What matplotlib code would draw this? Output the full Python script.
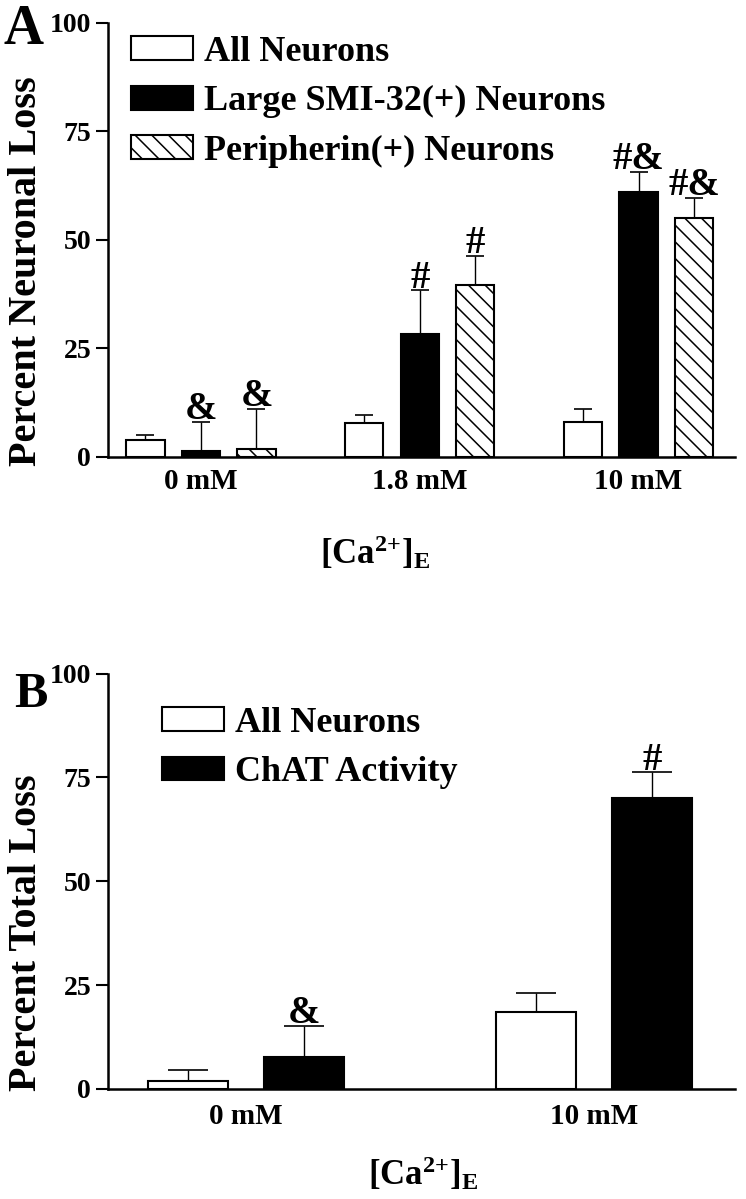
import numpy as np
import matplotlib
matplotlib.use('Agg')
import matplotlib.pyplot as plt

# data
groups_a = ['0 mM', '1.8 mM', '10 mM']
all_a = [3.8, 7.8, 8.0]
all_a_err = [1.3, 1.9, 3.0]
smi_a = [1.3, 28.2, 61.0]
smi_a_err = [6.7, 10.1, 4.6]
peri_a = [1.7, 39.5, 55.0]
peri_a_err = [9.3, 6.7, 4.7]
sig_smi = ['&', '#', '#&']
sig_peri = ['&', '#', '#&']

groups_b = ['0 mM', '10 mM']
all_b = [2.0, 18.5]
all_b_err = [2.6, 4.6]
chat_b = [7.8, 70.0]
chat_b_err = [7.4, 6.2]
sig_chat = ['&', '#']

yticks = [0, 25, 50, 75, 100]

plt.rcParams['font.family'] = 'Liberation Serif'
plt.rcParams['font.weight'] = 'bold'
plt.rcParams['mathtext.fontset'] = 'custom'
plt.rcParams['mathtext.rm'] = 'Liberation Serif:bold'
plt.rcParams['mathtext.it'] = 'Liberation Serif:bold'
plt.rcParams['mathtext.bf'] = 'Liberation Serif:bold'
plt.rcParams['hatch.linewidth'] = 1.1

W, H = 746, 1199
fig = plt.figure(figsize=(W / 100, H / 100), dpi=100)


def px_axes(left, right, top, bottom):
    return fig.add_axes([left / W, 1 - bottom / H, (right - left) / W, (bottom - top) / H])


def style_axis(ax):
    ax.set_ylim(0, 100)
    ax.set_yticks(yticks)
    for s in ['top', 'right']:
        ax.spines[s].set_visible(False)
    ax.spines['left'].set_linewidth(1.8)
    ax.spines['bottom'].set_linewidth(1.8)
    ax.tick_params(axis='y', direction='out', length=8.6, width=1.5, pad=3.5, labelsize=20)
    ax.tick_params(axis='x', length=0, labelsize=21)
    for lab in ax.get_xticklabels() + ax.get_yticklabels():
        lab.set_fontweight('bold')


def mark(ax, xs, tops, labels):
    for x, t, s in zip(xs, tops, labels):
        ax.annotate(s, (x, t), xytext=(0, 2), textcoords='offset points',
                    ha='center', va='baseline', fontsize=28, fontweight='bold')


bar_kw = dict(edgecolor='k', linewidth=1.5, zorder=2)
err_kw = dict(fmt='none', ecolor='k', elinewidth=1.0, capthick=1.2, zorder=1)
leg_kw = dict(bbox_transform=fig.transFigure, frameon=False, fontsize=26,
              handlelength=1.72, handleheight=0.64, handletextpad=0.3,
              labelspacing=0.45, borderpad=0, borderaxespad=0, loc='upper left')

# ---- panel A
axA = px_axes(108, 735, 22.7, 456.7)
xa = np.arange(len(groups_a))
w_a = 0.174
off_a = 0.2537
b1 = axA.bar(xa - off_a, all_a, w_a, color='white', label='All Neurons', **bar_kw)
b2 = axA.bar(xa, smi_a, w_a, color='black', label='Large SMI-32(+) Neurons', **bar_kw)
b3 = axA.bar(xa + off_a, peri_a, w_a, color='white', hatch='\\\\',
             label='Peripherin(+) Neurons', **bar_kw)
axA.errorbar(xa - off_a, all_a, yerr=[np.zeros(3), all_a_err], capsize=6.7, **err_kw)
axA.errorbar(xa, smi_a, yerr=[np.zeros(3), smi_a_err], capsize=6.7, **err_kw)
axA.errorbar(xa + off_a, peri_a, yerr=[np.zeros(3), peri_a_err], capsize=6.7, **err_kw)
mark(axA, xa, np.add(smi_a, smi_a_err), sig_smi)
mark(axA, xa + off_a, np.add(peri_a, peri_a_err), sig_peri)
axA.set_xlim(-0.425, 2.441)
axA.set_xticks(xa)
axA.set_xticklabels(groups_a)
style_axis(axA)
axA.tick_params(axis='x', pad=8)
axA.legend(handles=[b1, b2, b3], bbox_to_anchor=(131 / W, 1 - 36 / H), **leg_kw)

# ---- panel B
axB = px_axes(108, 735, 673.5, 1089)
xb = np.arange(len(groups_b))
w_b = 0.23
off_b = 0.1667
c1 = axB.bar(xb - off_b, all_b, w_b, color='white', label='All Neurons', **bar_kw)
c2 = axB.bar(xb + off_b, chat_b, w_b, color='black', label='ChAT Activity', **bar_kw)
axB.errorbar(xb - off_b, all_b, yerr=[np.zeros(2), all_b_err], capsize=14.4, **err_kw)
axB.errorbar(xb + off_b, chat_b, yerr=[np.zeros(2), chat_b_err], capsize=14.4, **err_kw)
mark(axB, xb + off_b, np.add(chat_b, chat_b_err), sig_chat)
axB.set_xlim(-0.397, 1.405)
axB.set_xticks(xb)
axB.set_xticklabels(groups_b)
style_axis(axB)
axB.tick_params(axis='x', pad=10)
axB.legend(handles=[c1, c2], bbox_to_anchor=(162 / W, 1 - 707 / H), **leg_kw)

# labels
fig.text(27 / W, 1 - 271 / H, 'Percent Neuronal Loss', rotation=90, ha='center',
         va='center', fontsize=29, fontweight='bold')
fig.text(27 / W, 1 - 933 / H, 'Percent Total Loss', rotation=90, ha='center',
         va='center', fontsize=29, fontweight='bold')
xlab = '[Ca$^{2{+}}$]$_{E}$'
fig.text(375 / W, 1 - 553 / H, xlab, ha='center', va='center', fontsize=25, fontweight='bold')
fig.text(423 / W, 1 - 1174 / H, xlab, ha='center', va='center', fontsize=25, fontweight='bold')
fig.text(4 / W, 1 - 44 / H, 'A', ha='left', va='baseline', fontsize=40, fontweight='bold')
fig.text(14 / W, 1 - 707 / H, 'B', ha='left', va='baseline', fontsize=36, fontweight='bold')

fig.savefig('out.png', dpi=100)
